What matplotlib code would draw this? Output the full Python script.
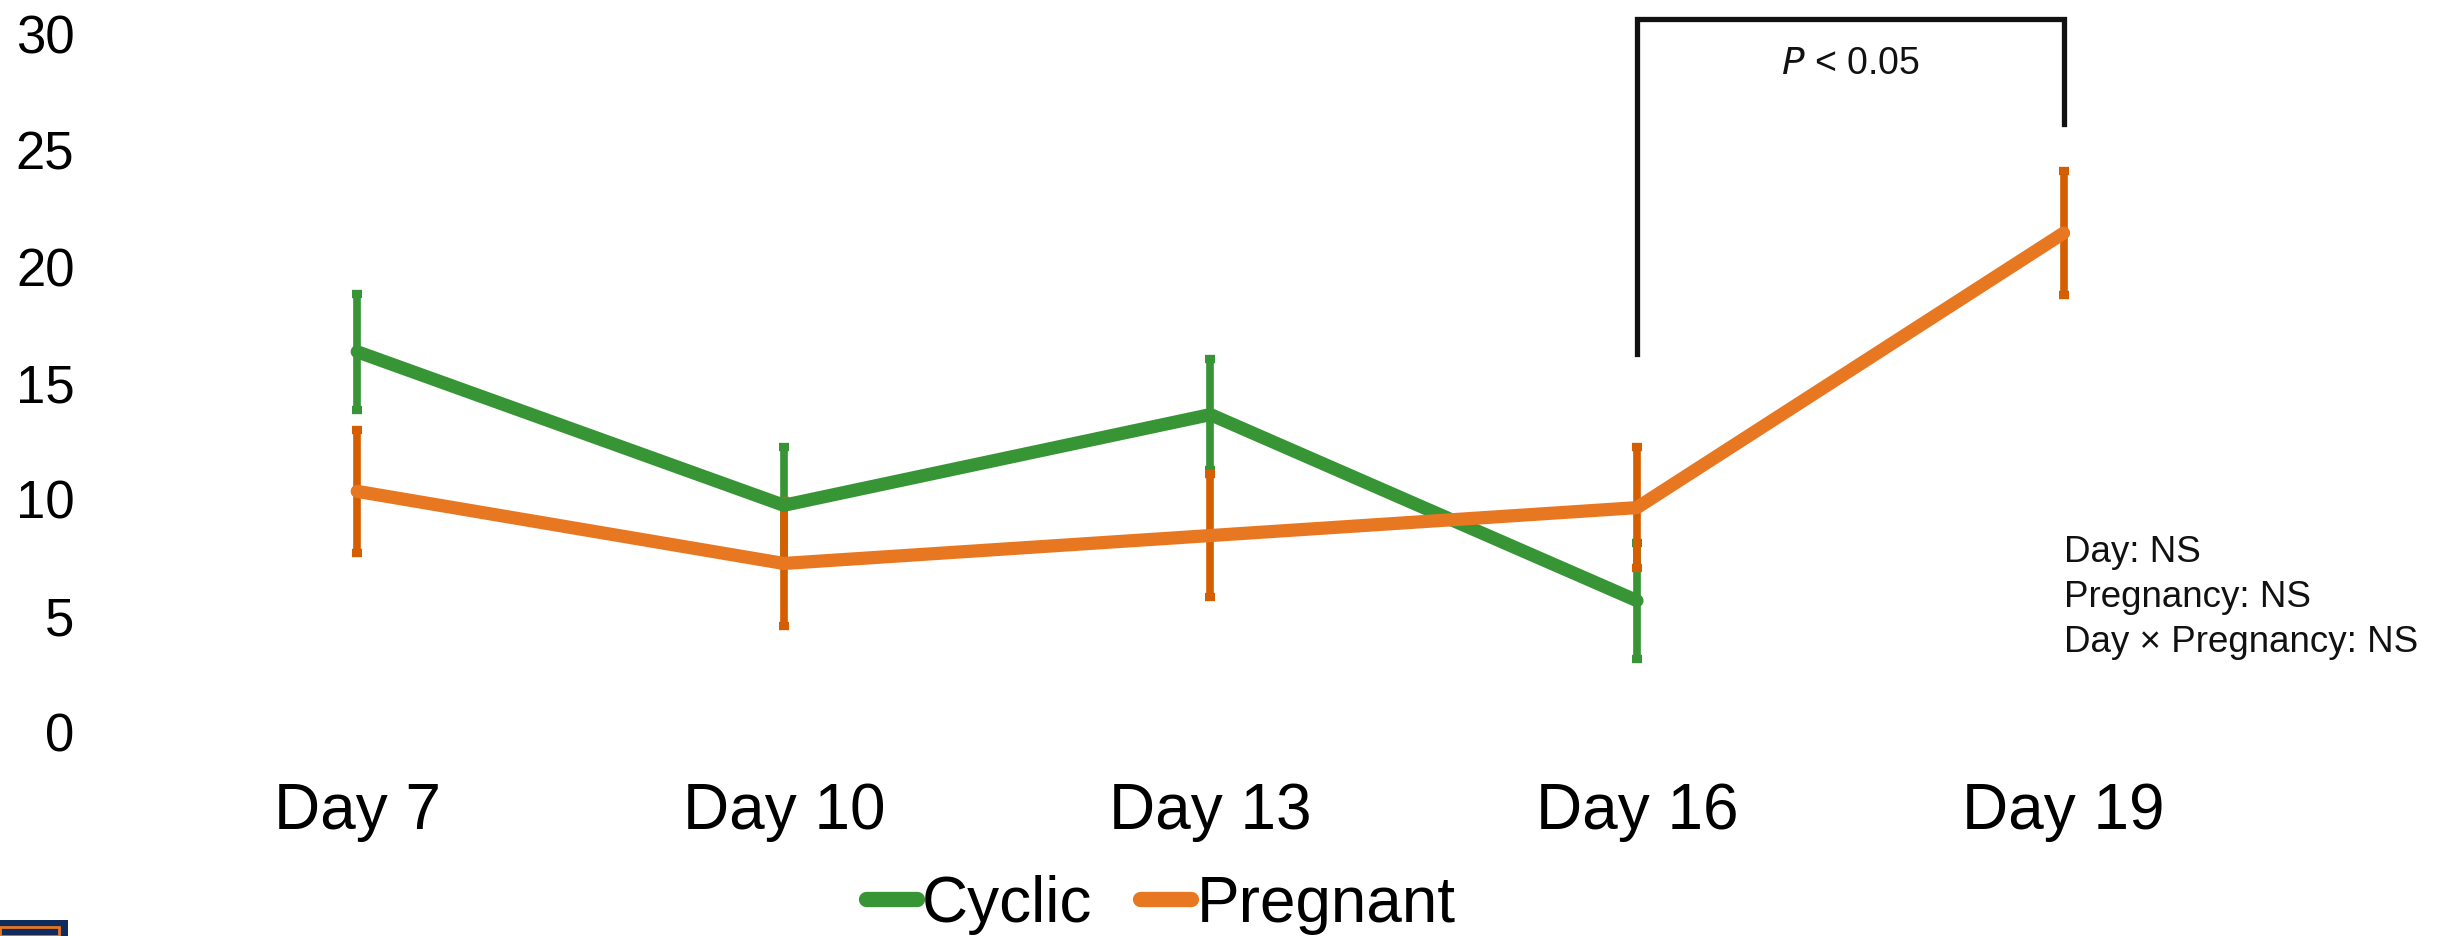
import matplotlib
matplotlib.use("Agg")
import matplotlib.pyplot as plt
from matplotlib.patches import Rectangle
from matplotlib.lines import Line2D

days = ["Day 7", "Day 10", "Day 13", "Day 16", "Day 19"]
cyclic_mean = [16.3, 9.7, 13.6, 5.6]
cyclic_err = [2.5, 2.5, 2.4, 2.5]
pregnant_mean = [10.3, 7.2, 8.4, 9.6, 21.4]
pregnant_err = [2.65, 2.7, 2.65, 2.6, 2.65]
yticks = [0, 5, 10, 15, 20, 25, 30]
stats_text = ["Day: NS", "Pregnancy: NS", "Day \u00d7 Pregnancy: NS"]

GREEN = "#379536"
ORANGE = "#E87722"
ORANGE_DARK = "#D55E00"
FONT = ["Liberation Sans", "DejaVu Sans"]

fig = plt.figure(figsize=(24.43, 9.37), dpi=100)
ax = fig.add_axes([0.0589, 0.2188, 0.8731, 0.7449])

xc = list(range(len(cyclic_mean)))
xp = list(range(len(pregnant_mean)))

# error bars
ax.errorbar(xc, cyclic_mean, yerr=cyclic_err, fmt="none", ecolor=GREEN,
            elinewidth=5.5, capsize=3.5, capthick=6, zorder=2)
ax.errorbar(xp, pregnant_mean, yerr=pregnant_err, fmt="none", ecolor=ORANGE_DARK,
            elinewidth=5.5, capsize=3.5, capthick=6, zorder=3)
# lines
ax.plot(xc, cyclic_mean, color=GREEN, lw=9.5, solid_capstyle="round",
        solid_joinstyle="round", zorder=4)
ax.plot(xp, pregnant_mean, color=ORANGE, lw=9.5, solid_capstyle="round",
        solid_joinstyle="round", zorder=5)

ax.set_xlim(-0.5, 4.5)
ax.set_ylim(0, 30)
ax.set_yticks(yticks)
ax.set_yticklabels([str(v) for v in yticks], fontsize=38, family=FONT)
ax.set_xticks(xp)
ax.set_xticklabels(days, fontsize=46, family=FONT)
ax.tick_params(axis="y", length=0, pad=50)
ax.tick_params(axis="x", length=0, pad=36)
for s in ax.spines.values():
    s.set_visible(False)

# significance bracket
ax.plot([3, 3, 4, 4], [16.2, 30.6, 30.6, 26.1], color="#111111", lw=3.8,
        clip_on=False, solid_joinstyle="miter", zorder=6)
ax.text(3.5, 28.7, r"$\mathit{P}$ < 0.05", ha="center", va="center",
        fontsize=27, family=FONT, color="#111111")

# stats text
ax.text(4.0, 8.45, "\n".join(stats_text), ha="left", va="top", fontsize=26.5,
        family=FONT, color="#111111", linespacing=1.36)

# legend
handles = [Line2D([0], [0], color=GREEN, lw=11, solid_capstyle="round"),
           Line2D([0], [0], color=ORANGE, lw=11, solid_capstyle="round")]
fig.legend(handles, ["Cyclic", "Pregnant"], loc="center",
           bbox_to_anchor=(0.475, 0.034), ncol=2, frameon=False,
           prop={"family": FONT, "size": 46}, handlelength=0.8,
           handletextpad=0.08, columnspacing=0.75)

# cut-off logo box in lower-left corner
fig.patches.append(Rectangle((0, 0), 68 / 2443, 16 / 937, transform=fig.transFigure,
                             facecolor="#0E2D5E", edgecolor="none", zorder=10))
fig.patches.append(Rectangle((0, 0), 59 / 2443, 9 / 937, transform=fig.transFigure,
                             facecolor="none", edgecolor="#E87722", lw=2, zorder=11))

fig.savefig("out.png", dpi=100, facecolor="white")
